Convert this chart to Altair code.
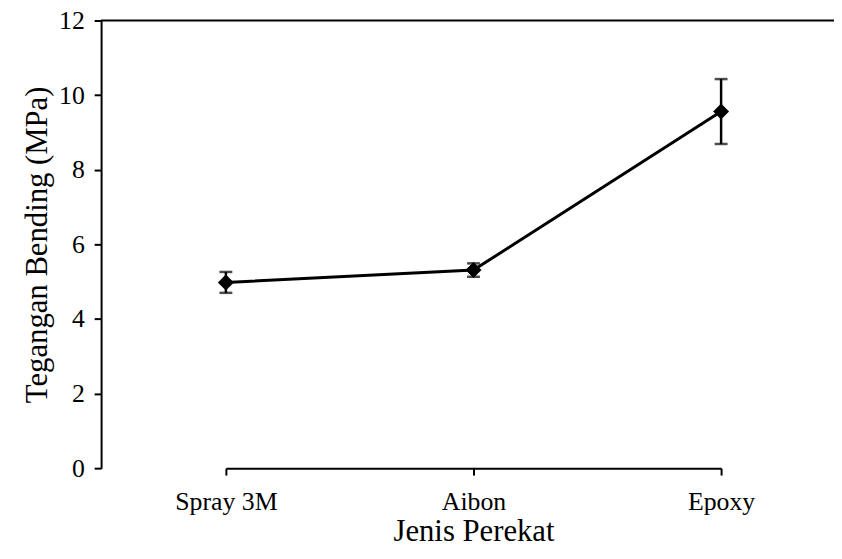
import altair as alt
import pandas as pd

categories = ["Spray 3M", "Aibon", "Epoxy"]
means = [4.98, 5.31, 9.56]
errors = [0.28, 0.18, 0.87]
y_ticks = [0, 2, 4, 6, 8, 10, 12]

df = pd.DataFrame({
    "Jenis": categories,
    "mean": means,
    "lo": [m - e for m, e in zip(means, errors)],
    "hi": [m + e for m, e in zip(means, errors)],
})

FONT = "Liberation Serif"

x_enc = alt.X(
    "Jenis:N",
    sort=categories,
    scale=alt.Scale(type="point", padding=0, range=[126, 626]),
    axis=alt.Axis(
        title="Jenis Perekat",
        labelAngle=0,
        labelFontSize=26,
        titleFontSize=31,
        labelPadding=14,
        titleY=73,
        titleBaseline="alphabetic",
        titleFontWeight="normal",
        tickSize=7,
        tickWidth=2,
        domainWidth=2,
    ),
)

y_scale = alt.Scale(domain=[0, 12], nice=False)
y_axis = alt.Axis(
    title="Tegangan Bending (MPa)",
    values=y_ticks,
    grid=False,
    labelFontSize=26,
    titleFontSize=31,
    labelPadding=10,
    tickSize=7,
    tickWidth=2,
    domainWidth=2,
    titleX=-55,
    titleY=226,
    titleBaseline="alphabetic",
    titleFontWeight="normal",
)

base = alt.Chart(df)

line = base.mark_line(color="black", strokeWidth=3).encode(
    x=x_enc,
    y=alt.Y("mean:Q", scale=y_scale, axis=y_axis),
)

err = base.mark_rule(color="black", strokeWidth=2.5).encode(
    x=alt.X("Jenis:N", sort=categories),
    y=alt.Y("lo:Q"),
    y2="hi:Q",
)

cap_lo = base.mark_tick(color="black", thickness=2.5, size=13).encode(
    x=alt.X("Jenis:N", sort=categories),
    y=alt.Y("lo:Q"),
)
cap_hi = base.mark_tick(color="black", thickness=2.5, size=13).encode(
    x=alt.X("Jenis:N", sort=categories),
    y=alt.Y("hi:Q"),
)

pts = base.mark_point(shape="diamond", filled=True, color="black", size=260, opacity=1).encode(
    x=alt.X("Jenis:N", sort=categories),
    y=alt.Y("mean:Q"),
)

top = alt.Chart(pd.DataFrame({"v": [12]})).mark_rule(color="black", strokeWidth=2).encode(
    y=alt.Y("v:Q")
)

chart = alt.layer(line, err, cap_lo, cap_hi, pts, top).properties(
    width=740,
    height=452,
    autosize=alt.AutoSizeParams(type="none"),
    padding={"left": 94, "top": 10, "right": 0, "bottom": 81},
).configure_view(stroke=None).configure_axis(
    labelFont=FONT,
    titleFont=FONT,
    labelColor="black",
    titleColor="black",
    domainColor="black",
    tickColor="black",
)

chart.save("out.html", embed_options={"renderer": "svg", "actions": False})
